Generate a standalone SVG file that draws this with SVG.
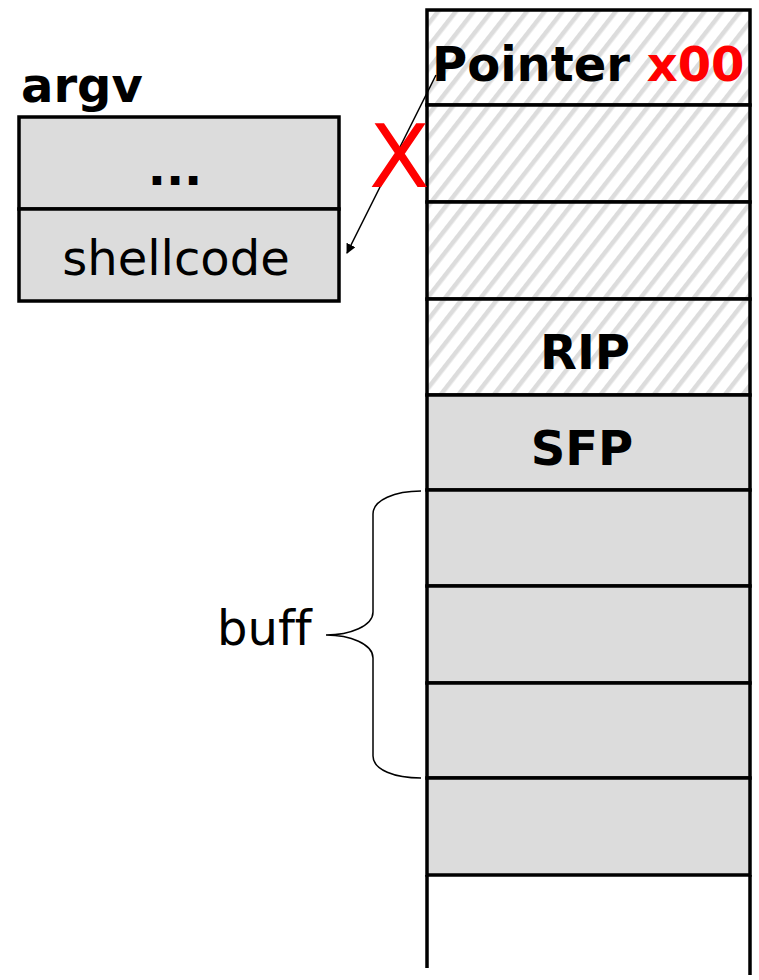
<svg xmlns="http://www.w3.org/2000/svg" width="759" height="980" viewBox="0 0 759 980">
<defs>
<pattern id="hatch" patternUnits="userSpaceOnUse" width="14" height="14" patternTransform="rotate(38)">
<rect width="14" height="14" fill="#fff"/>
<rect x="0" y="0" width="4.5" height="14" fill="#dcdcdc"/>
</pattern>
<marker id="ah" viewBox="0 0 10 10" refX="9" refY="5" markerWidth="10" markerHeight="10" markerUnits="userSpaceOnUse" orient="auto">
<path d="M0,0 L10,5 L0,10 z" fill="#000"/>
</marker>
</defs>
<style>
.cell{stroke:#000;stroke-width:3.5}
.g{fill:#dcdcdc}
.h{fill:url(#hatch)}
.b{font-family:"DejaVu Sans",sans-serif;font-weight:bold;font-size:48px;fill:#000}
.r{font-family:"DejaVu Sans",sans-serif;font-size:48px;fill:#000;font-variant-ligatures:none}
</style>
<rect width="759" height="980" fill="#fff"/>
<g id="stack">
<rect class="cell h" x="427" y="10" width="323" height="95"/>
<rect class="cell h" x="427" y="105" width="323" height="97"/>
<rect class="cell h" x="427" y="202" width="323" height="97"/>
<rect class="cell h" x="427" y="299" width="323" height="96"/>
<rect class="cell g" x="427" y="395" width="323" height="95"/>
<rect class="cell g" x="427" y="490" width="323" height="96"/>
<rect class="cell g" x="427" y="586" width="323" height="97"/>
<rect class="cell g" x="427" y="683" width="323" height="95"/>
<rect class="cell g" x="427" y="778" width="323" height="97"/>
<path d="M427,875 V968 M750,875 V975" stroke="#000" stroke-width="3.5" fill="none"/>
<text class="b" x="432" y="81">Pointer <tspan fill="#ff0000">x00</tspan></text>
<text class="b" x="585" y="369" text-anchor="middle">RIP</text>
<text class="b" x="582" y="465" text-anchor="middle">SFP</text>
</g>
<g id="argv">
<text class="b" x="21" y="102">argv</text>
<rect class="cell g" x="19" y="117" width="320" height="92"/>
<rect class="cell g" x="19" y="209" width="320" height="92"/>
<text class="b" x="175" y="185" text-anchor="middle">...</text>
<text class="r" x="176" y="275" text-anchor="middle">shellcode</text>
</g>
<g id="buff">
<path d="M421,491 C395,491 373,500 373,514 V612 C373,626 350,635 326,635 C350,635 373,644 373,658 V756 C373,770 395,778 421,778" fill="none" stroke="#000" stroke-width="1.5"/>
<text class="r" x="217" y="645">buff</text>
</g>
<g id="connectors">
<line x1="436" y1="75" x2="347" y2="253" stroke="#000" stroke-width="1.5" marker-end="url(#ah)"/>
</g>
<g id="cross">
<text transform="translate(369,187) scale(1.02,1)" font-family="'DejaVu Sans',sans-serif" font-size="87" fill="#ff0000">X</text>
</g>
</svg>
